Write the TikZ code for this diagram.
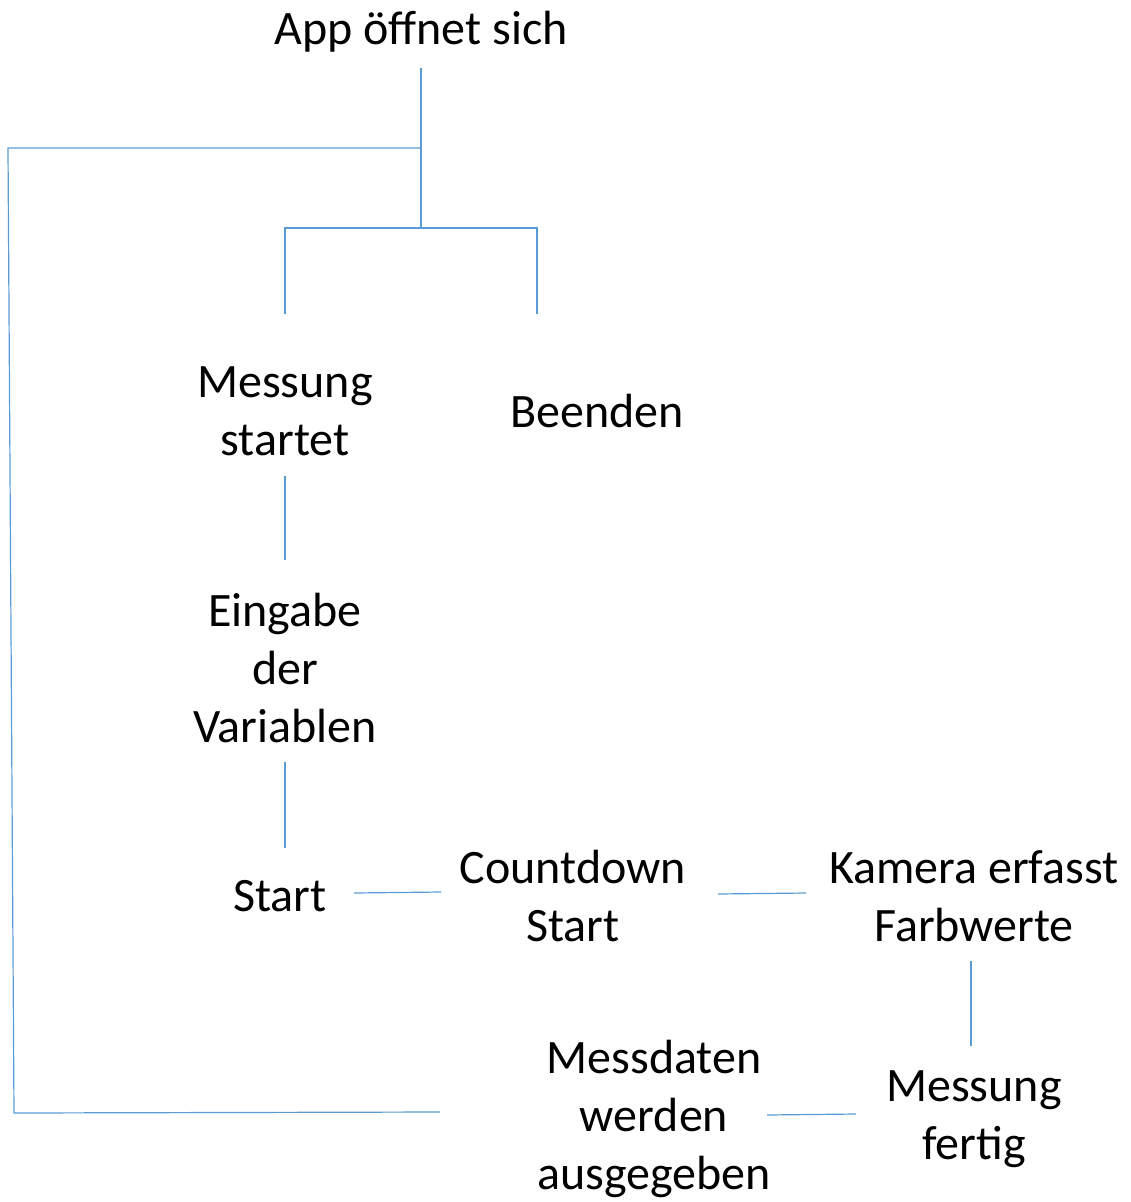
\documentclass[tikz,border=0pt]{standalone}
\usepackage{fontspec}
\setmainfont{Carlito}
\definecolor{linkblue}{HTML}{5B9BD5}
\begin{document}
\begin{tikzpicture}[x=1pt,y=-1pt,
  lbl/.style={inner sep=0pt,align=center,font=\fontsize{48}{58}\selectfont},
  conn/.style={draw=linkblue,line width=1.2pt}]
\useasboundingbox (0,0) rectangle (1131,1202);
% nodes
\node[lbl] (app) at (421,32) {App öffnet sich};
\node[lbl] (ms) at (285,411) {Messung\\startet};
\node[lbl] (beenden) at (597,411) {Beenden};
\node[lbl] (eingabe) at (285,668) {Eingabe\\der\\Variablen};
\node[lbl] (start) at (280,896) {Start};
\node[lbl] (cd) at (573,896) {Countdown\\Start};
\node[lbl] (kam) at (974,896) {Kamera erfasst\\Farbwerte};
\node[lbl] (md) at (654,1119) {Messdaten\\werden\\ausgegeben};
\node[lbl] (mf) at (974,1119) {Messung\\fertig};
% connector end points
\coordinate (appB) at (421,68);
\coordinate (split) at (421,228);
\coordinate (loopT) at (421,148);
\coordinate (loopTL) at (8,148);
\coordinate (loopBL) at (14,1113);
\coordinate (loopEnd) at (440,1112);
\coordinate (brL) at (285,228);
\coordinate (brR) at (537,228);
\coordinate (msT) at (285,314);
\coordinate (beT) at (537,314);
\coordinate (msB) at (285,476);
\coordinate (eiT) at (285,560);
\coordinate (eiB) at (285,762);
\coordinate (stT) at (285,848);
\coordinate (stR) at (354,893);
\coordinate (cdL) at (441,892);
\coordinate (cdR) at (718,894);
\coordinate (kaL) at (806,893);
\coordinate (kaB) at (971,961);
\coordinate (mfT) at (971,1046);
\coordinate (mfL) at (856,1114);
\coordinate (mdR) at (767,1115);
% connectors
\draw[conn] (appB) -- (split);
\draw[conn] (loopT) -- (loopTL) -- (loopBL) -- (loopEnd);
\draw[conn] (msT) -- (brL) -- (brR) -- (beT);
\draw[conn] (msB) -- (eiT);
\draw[conn] (eiB) -- (stT);
\draw[conn] (stR) -- (cdL);
\draw[conn] (cdR) -- (kaL);
\draw[conn] (kaB) -- (mfT);
\draw[conn] (mfL) -- (mdR);
\end{tikzpicture}
\end{document}
